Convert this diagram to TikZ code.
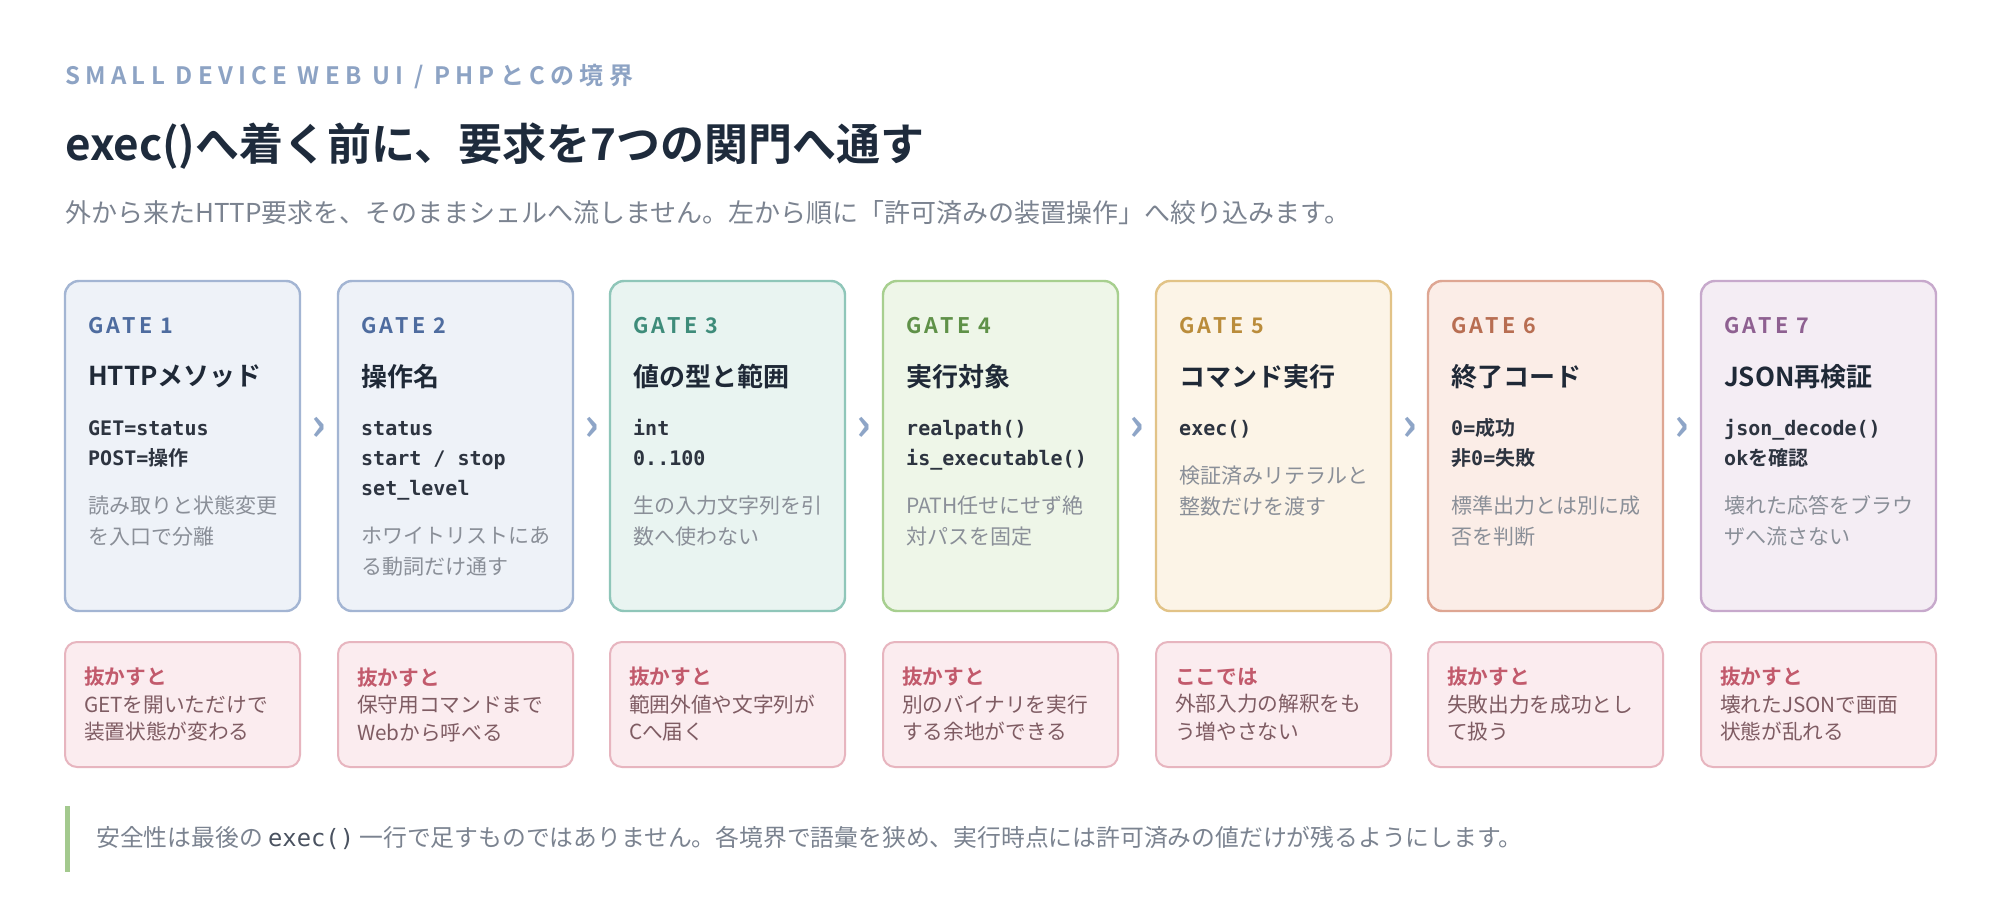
\documentclass[tikz,border=0pt]{standalone}
\usepackage{fontspec}
\usepackage{tikz}
\setmainfont{Noto Sans CJK JP}[BoldFont={Noto Sans CJK JP Bold}]
\setmonofont{DejaVu Sans Mono}

\definecolor{kickerC}{HTML}{8DA3C4}
\definecolor{titleC}{HTML}{1E2B3C}
\definecolor{leadC}{HTML}{7B8390}
\definecolor{headC}{HTML}{1F2937}
\definecolor{codeC}{HTML}{2D3440}
\definecolor{noteC}{HTML}{8A8F98}
\definecolor{chevC}{HTML}{8EA5C7}
\definecolor{riskBorder}{HTML}{E7B5BF}
\definecolor{riskFill}{HTML}{FBECEF}
\definecolor{riskHead}{HTML}{C25A6C}
\definecolor{riskText}{HTML}{7F5C63}
\definecolor{footBar}{HTML}{A3C98E}
\definecolor{footCode}{HTML}{4A5260}
\definecolor{blueLine}{HTML}{A3B5D3}
\definecolor{blueFill}{HTML}{EEF2F8}
\definecolor{blueText}{HTML}{4E6C9F}
\definecolor{tealLine}{HTML}{8FC6B9}
\definecolor{tealFill}{HTML}{E9F4F1}
\definecolor{tealText}{HTML}{3E8C7A}
\definecolor{greenLine}{HTML}{A7CF8F}
\definecolor{greenFill}{HTML}{EEF6E8}
\definecolor{greenText}{HTML}{5F9148}
\definecolor{sandLine}{HTML}{E2C387}
\definecolor{sandFill}{HTML}{FCF4E7}
\definecolor{sandText}{HTML}{BA8C3B}
\definecolor{rustLine}{HTML}{DEA693}
\definecolor{rustFill}{HTML}{FBEDE7}
\definecolor{rustText}{HTML}{B86E52}
\definecolor{plumLine}{HTML}{C7A9CC}
\definecolor{plumFill}{HTML}{F4EDF4}
\definecolor{plumText}{HTML}{8E6091}

\tikzstyle{gate} = [rectangle, draw, rounded corners=14pt, line width=2.4pt, minimum width=235pt, minimum height=330pt, inner sep=0pt]
\tikzstyle{risk} = [rectangle, draw=riskBorder, fill=riskFill, rounded corners=12pt, line width=2pt, minimum width=235pt, minimum height=125pt, text width=197pt, inner xsep=19pt, inner ysep=0pt, align=left, text=riskText, font=\fontsize{20.7}{27.5}\selectfont]
\tikzstyle{gatelabel} = [anchor=north west, inner sep=0pt, font=\bfseries\fontsize{21.5}{24}\selectfont\addfontfeature{LetterSpace=16}]
\tikzstyle{gatetitle} = [anchor=north west, inner sep=0pt, text=headC, font=\bfseries\fontsize{26}{30}\selectfont]
\tikzstyle{codeline} = [anchor=north west, inner sep=0pt, align=left, text=codeC, font=\ttfamily\bfseries\fontsize{20}{30}\selectfont]
\tikzstyle{gatenote} = [anchor=north west, inner sep=0pt, align=left, text=noteC, font=\fontsize{21}{31}\selectfont]
\tikzstyle{chevron} = [inner sep=0pt, text=chevC, font=\bfseries\fontsize{46}{46}\selectfont]

\begin{document}
\begin{tikzpicture}[x=1pt, y=-1pt]

\fill[white] (0,0) rectangle (2000,920);
\useasboundingbox (0,0) rectangle (2000,920);

\node[anchor=north west, inner sep=0pt, text=kickerC, font=\bfseries\fontsize{24}{26}\selectfont\addfontfeature{LetterSpace=22}] at (65,64) (kicker) {\strut SMALL DEVICE WEB UI / PHPとCの境界};
\node[anchor=north west, inner sep=0pt, text=titleC, font=\bfseries\fontsize{44}{52}\selectfont] at (65,123) (headline) {\strut exec()へ着く前に、要求を7つの関門へ通す};
\node[anchor=north west, inner sep=0pt, text=leadC, font=\fontsize{26}{30}\selectfont] at (65,200) (lead) {\strut 外から来たHTTP要求を、そのままシェルへ流しません。左から順に「許可済みの装置操作」へ絞り込みます。};

% gate 1
\node[gate, draw=blueLine, fill=blueFill] at (182.5,446) (gateOne) {};
\node[gatelabel, text=blueText] at (88,316) (gateOneLabel) {\strut GATE 1};
\node[gatetitle] at (88,364) (gateOneTitle) {\strut HTTPメソッド};
\node[codeline] at (88,414) (gateOneCode) {\strut GET=status\\POST={\rmfamily 操作}};
\node[gatenote] at (88,492) (gateOneNote) {\strut 読み取りと状態変更\\を入口で分離};
\node[risk] at (182.5,704.5) (riskOne) {{\color{riskHead}\bfseries 抜かすと}\\GETを開いただけで\\装置状態が変わる};

% gate 2
\node[gate, draw=blueLine, fill=blueFill] at (455.5,446) (gateTwo) {};
\node[gatelabel, text=blueText] at (361,316) (gateTwoLabel) {\strut GATE 2};
\node[gatetitle] at (361,364) (gateTwoTitle) {\strut 操作名};
\node[codeline] at (361,414) (gateTwoCode) {\strut status\\start / stop\\set\_level};
\node[gatenote] at (361,522) (gateTwoNote) {\strut ホワイトリストにあ\\る動詞だけ通す};
\node[risk] at (455.5,704.5) (riskTwo) {{\color{riskHead}\bfseries 抜かすと}\\保守用コマンドまで\\Webから呼べる};

% gate 3
\node[gate, draw=tealLine, fill=tealFill] at (727.5,446) (gateThree) {};
\node[gatelabel, text=tealText] at (633,316) (gateThreeLabel) {\strut GATE 3};
\node[gatetitle] at (633,364) (gateThreeTitle) {\strut 値の型と範囲};
\node[codeline] at (633,414) (gateThreeCode) {\strut int\\0..100};
\node[gatenote] at (633,492) (gateThreeNote) {\strut 生の入力文字列を引\\数へ使わない};
\node[risk] at (727.5,704.5) (riskThree) {{\color{riskHead}\bfseries 抜かすと}\\範囲外値や文字列が\\Cへ届く};

% gate 4
\node[gate, draw=greenLine, fill=greenFill] at (1000.5,446) (gateFour) {};
\node[gatelabel, text=greenText] at (906,316) (gateFourLabel) {\strut GATE 4};
\node[gatetitle] at (906,364) (gateFourTitle) {\strut 実行対象};
\node[codeline] at (906,414) (gateFourCode) {\strut realpath()\\is\_executable()};
\node[gatenote] at (906,492) (gateFourNote) {\strut PATH任せにせず絶\\対パスを固定};
\node[risk] at (1000.5,704.5) (riskFour) {{\color{riskHead}\bfseries 抜かすと}\\別のバイナリを実行\\する余地ができる};

% gate 5
\node[gate, draw=sandLine, fill=sandFill] at (1273.5,446) (gateFive) {};
\node[gatelabel, text=sandText] at (1179,316) (gateFiveLabel) {\strut GATE 5};
\node[gatetitle] at (1179,364) (gateFiveTitle) {\strut コマンド実行};
\node[codeline] at (1179,414) (gateFiveCode) {\strut exec()};
\node[gatenote] at (1179,462) (gateFiveNote) {\strut 検証済みリテラルと\\整数だけを渡す};
\node[risk] at (1273.5,704.5) (riskFive) {{\color{riskHead}\bfseries ここでは}\\外部入力の解釈をも\\う増やさない};

% gate 6
\node[gate, draw=rustLine, fill=rustFill] at (1545.5,446) (gateSix) {};
\node[gatelabel, text=rustText] at (1451,316) (gateSixLabel) {\strut GATE 6};
\node[gatetitle] at (1451,364) (gateSixTitle) {\strut 終了コード};
\node[codeline] at (1451,414) (gateSixCode) {\strut 0={\rmfamily 成功}\\{\rmfamily 非}0={\rmfamily 失敗}};
\node[gatenote] at (1451,492) (gateSixNote) {\strut 標準出力とは別に成\\否を判断};
\node[risk] at (1545.5,704.5) (riskSix) {{\color{riskHead}\bfseries 抜かすと}\\失敗出力を成功とし\\て扱う};

% gate 7
\node[gate, draw=plumLine, fill=plumFill] at (1818.5,446) (gateSeven) {};
\node[gatelabel, text=plumText] at (1724,316) (gateSevenLabel) {\strut GATE 7};
\node[gatetitle] at (1724,364) (gateSevenTitle) {\strut JSON再検証};
\node[codeline] at (1724,414) (gateSevenCode) {\strut json\_decode()\\ok{\rmfamily を確認}};
\node[gatenote] at (1724,492) (gateSevenNote) {\strut 壊れた応答をブラウ\\ザへ流さない};
\node[risk] at (1818.5,704.5) (riskSeven) {{\color{riskHead}\bfseries 抜かすと}\\壊れたJSONで画面\\状態が乱れる};

% chevrons between the gates
\node[chevron] at (319,429) (stepOne) {›};
\node[chevron] at (592,429) (stepTwo) {›};
\node[chevron] at (864,429) (stepThree) {›};
\node[chevron] at (1137,429) (stepFour) {›};
\node[chevron] at (1410,429) (stepFive) {›};
\node[chevron] at (1682,429) (stepSix) {›};

% footer
\fill[footBar] (65,806) rectangle (70,872);
\node[anchor=north west, inner sep=0pt, text=leadC, font=\fontsize{23.8}{28}\selectfont] at (96,826) (footnote) {\strut 安全性は最後の {\ttfamily\color{footCode}exec()} 一行で足すものではありません。各境界で語彙を狭め、実行時点には許可済みの値だけが残るようにします。};

\end{tikzpicture}
\end{document}
